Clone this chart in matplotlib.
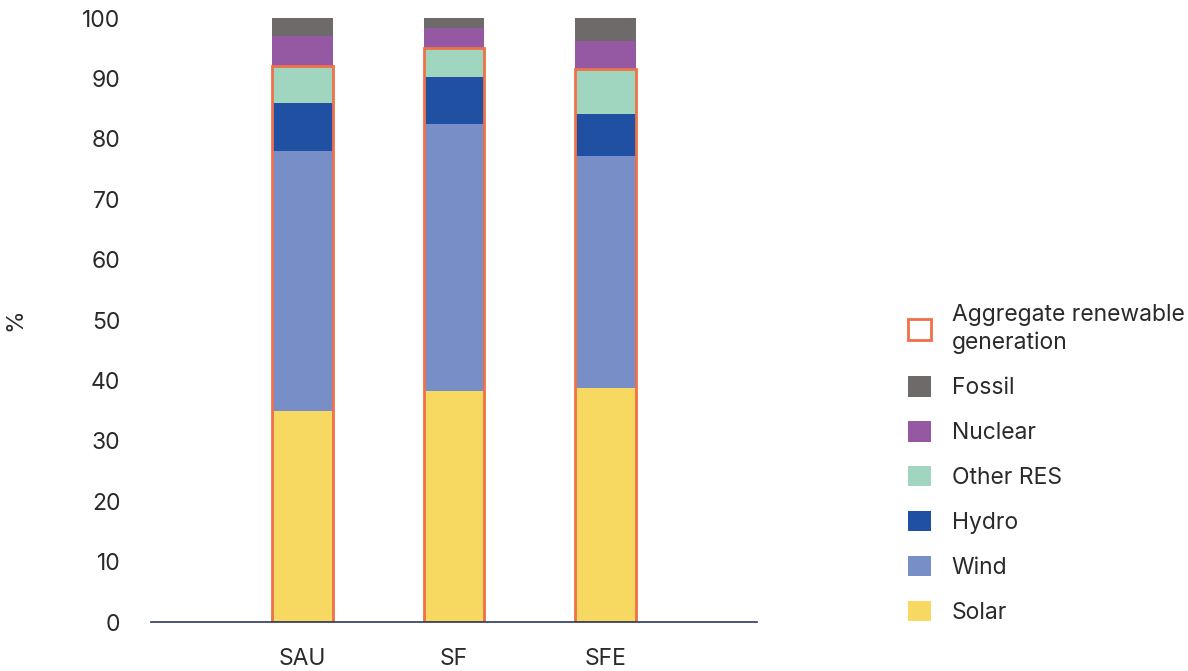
import numpy as np
import matplotlib.pyplot as plt
from matplotlib.patches import Patch

# data (share of generation, %)
scenarios = ["SAU", "SF", "SFE"]
solar = [35.0, 38.2, 38.7]
wind = [43.0, 44.3, 38.5]
hydro = [8.0, 7.7, 6.9]
other_res = [6.0, 4.8, 7.5]
nuclear = [5.0, 3.3, 4.6]
fossil = [3.0, 1.7, 3.8]

layers = [
    ("Solar", solar, "#F7D961"),
    ("Wind", wind, "#778EC7"),
    ("Hydro", hydro, "#2050A2"),
    ("Other RES", other_res, "#A0D6C0"),
    ("Nuclear", nuclear, "#9558A2"),
    ("Fossil", fossil, "#6E6A69"),
]
ORANGE = "#F07048"
TXT = "#2a2a2a"
FS = 16.5

plt.rcParams["font.family"] = ["Inter", "DejaVu Sans"]

fig = plt.figure(figsize=(11.88, 6.71), dpi=100)
ax = fig.add_axes([0.127, 0.073, 0.51, 0.90])

x = np.arange(len(scenarios))
width = 0.4
bottom = np.zeros(len(scenarios))
for name, vals, col in layers:
    ax.bar(x, vals, width, bottom=bottom, color=col, edgecolor="none", zorder=2)
    bottom += np.array(vals)

# outline around the renewable part
renew = np.array(solar) + np.array(wind) + np.array(hydro) + np.array(other_res)
ax.bar(x, renew, width, facecolor="none", edgecolor=ORANGE, linewidth=2, zorder=3)

ax.set_xlim(-1, 3)
ax.set_ylim(0, 100)
ax.set_yticks(range(0, 101, 10))
ax.set_xticks(x)
ax.set_xticklabels(scenarios)
for s in ["top", "right", "left"]:
    ax.spines[s].set_visible(False)
ax.spines["bottom"].set_color("#2B3A5C")
ax.spines["bottom"].set_linewidth(1.2)
ax.spines["bottom"].set_zorder(4)
ax.tick_params(axis="both", length=0, labelsize=FS, labelcolor=TXT)
ax.tick_params(axis="y", pad=22)
ax.tick_params(axis="x", pad=19)
fig.text(15 / 1188, 1 - 320 / 671, "%", rotation=90, fontsize=FS, color=TXT,
         ha="center", va="center")

handles = [Patch(facecolor="white", edgecolor=ORANGE, linewidth=2,
                 label="Aggregate renewable\ngeneration")]
for name, vals, col in reversed(layers):
    handles.append(Patch(facecolor=col, edgecolor="none", label=name))

leg = fig.legend(handles=handles, loc="upper left", bbox_to_anchor=(0.747, 0.578),
                 frameon=False, fontsize=FS, handlelength=1.0, handleheight=1.0,
                 handletextpad=0.9, labelspacing=0.95, labelcolor=TXT)
leg.get_texts()[0].set_linespacing(1.35)

fig.savefig("out.png", dpi=100)
